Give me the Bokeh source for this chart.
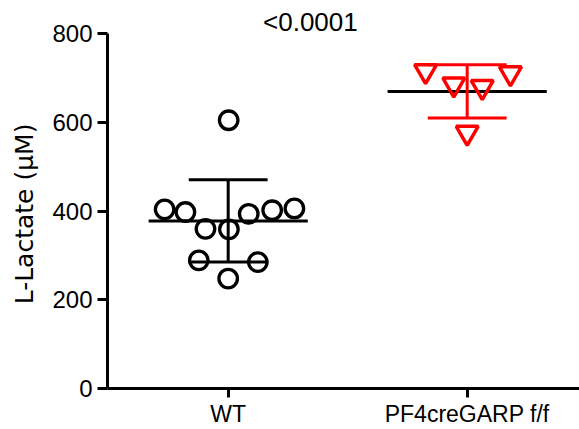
import math
from bokeh.plotting import figure
from bokeh.layouts import row
from bokeh.models import Range1d, FixedTicker, Label
from bokeh.core.properties import value
from bokeh.embed import file_html
from bokeh.resources import INLINE

# ---- data ----
categories = ["WT", "PF4creGARP f/f"]
cat_pos = [1, 2]
wt_x = [1.002, 0.734, 0.821, 0.905, 1.003, 1.086, 1.184, 1.277, 0.877, 1.124, 1.0]
wt_y = [605, 404, 398, 360, 359, 394, 402, 406, 289, 285, 248]
pf_x = [1.826, 1.944, 2.063, 2.181, 2.0]
pf_y = [716, 686, 680, 711, 577]
group_mean = [378, 670]
group_sd = [93, 60]
group_colors = ["black", "red"]
p_value_text = "<0.0001"
y_title = "L-Lactate (µM)"
y_ticks = [0, 200, 400, 600, 800]

FONT = "Liberation Sans"
W, H = 579, 429
TITLE_W = 45

# ---- narrow panel holding the rotated y-axis title ----
t = figure(width=TITLE_W, height=H, output_backend="svg", toolbar_location=None,
           x_range=Range1d(0, TITLE_W), y_range=Range1d(0, H),
           x_axis_type=None, y_axis_type=None,
           min_border_left=0, min_border_right=0, min_border_top=0,
           min_border_bottom=0)
t.outline_line_color = None
t.background_fill_color = "white"
t.border_fill_color = "white"
t.xgrid.visible = False
t.ygrid.visible = False
t.text(x=[23.5], y=[H - 236], text=[y_title], angle=math.pi / 2,
       text_align="center", text_baseline="middle",
       text_font=value("DejaVu Sans"), text_font_size=value("25px"),
       text_color="black")

# ---- main plot ----
p = figure(width=W - TITLE_W, height=H, output_backend="svg", toolbar_location=None,
           x_range=Range1d(0.495, 2.470), y_range=Range1d(0, 875),
           min_border_left=107 - TITLE_W, min_border_right=0, min_border_top=0,
           min_border_bottom=41)
p.background_fill_color = "white"
p.border_fill_color = "white"
p.outline_line_color = None
p.xgrid.visible = False
p.ygrid.visible = False

# mean lines (black) and SD error bars (group colour)
mean_half = 0.333
cap_half = 0.165
p.segment(x0=[c - mean_half for c in cat_pos], x1=[c + mean_half for c in cat_pos],
          y0=group_mean, y1=group_mean, line_color="black", line_width=3)
p.segment(x0=cat_pos, x1=cat_pos,
          y0=[m - s for m, s in zip(group_mean, group_sd)],
          y1=[m + s for m, s in zip(group_mean, group_sd)],
          line_color=group_colors, line_width=3)
for sign in (1, -1):
    p.segment(x0=[c - cap_half for c in cat_pos], x1=[c + cap_half for c in cat_pos],
              y0=[m + sign * s for m, s in zip(group_mean, group_sd)],
              y1=[m + sign * s for m, s in zip(group_mean, group_sd)],
              line_color=group_colors, line_width=3)

# points
p.scatter(wt_x, wt_y, marker="circle", size=18.5, line_width=3.3,
          line_color="black", fill_color=None)
p.scatter(pf_x, pf_y, marker="inverted_triangle", size=22, line_width=3.5,
          line_color="red", fill_color=None)

# p value
p.add_layout(Label(x=1.344, y=826, text=p_value_text, text_align="center",
                   text_baseline="middle", text_font=FONT, text_font_size="26px",
                   text_color="black"))

# axes
for ax in (p.xaxis[0], p.yaxis[0]):
    ax.axis_line_width = 3
    ax.axis_line_color = "black"
    ax.major_tick_line_width = 3
    ax.major_tick_line_color = "black"
    ax.major_tick_in = 0
    ax.minor_tick_line_color = None
    ax.major_label_text_color = "black"
    ax.major_label_text_font = FONT

xa = p.xaxis[0]
xa.ticker = FixedTicker(ticks=cat_pos)
xa.major_label_overrides = {pos: name for pos, name in zip(cat_pos, categories)}
xa.major_tick_out = 9
xa.major_label_text_font_size = "23px"
xa.major_label_standoff = 3

ya = p.yaxis[0]
ya.bounds = (0, 800)
ya.ticker = FixedTicker(ticks=y_ticks)
ya.major_tick_out = 10
ya.major_label_text_font_size = "24px"
ya.major_label_standoff = 5

layout = row(t, p, spacing=0)
open("out.html", "w").write(file_html(layout, INLINE))
